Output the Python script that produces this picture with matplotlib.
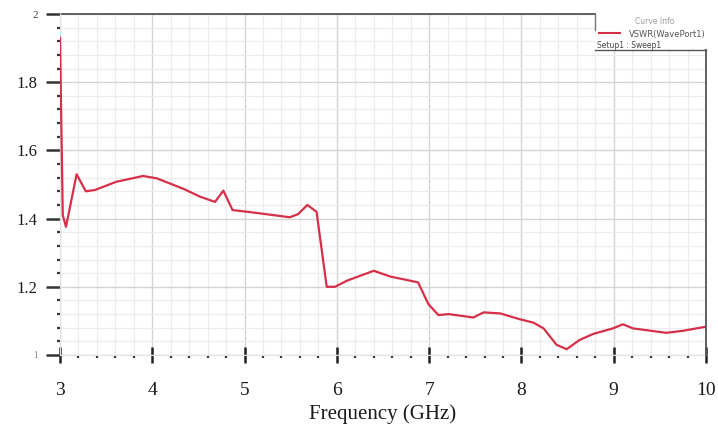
import matplotlib
matplotlib.use("Agg")
import matplotlib.pyplot as plt
from matplotlib.ticker import MultipleLocator, FixedLocator
from matplotlib.lines import Line2D
from matplotlib.patches import Rectangle

# ---- data ----
freq = [3.00, 3.03, 3.065, 3.18, 3.28, 3.38, 3.61, 3.90, 4.05, 4.34, 4.52, 4.68,
        4.77, 4.87, 5.06, 5.49, 5.58, 5.68, 5.78, 5.89, 5.98, 6.11, 6.25, 6.40,
        6.58, 6.88, 6.99, 7.10, 7.21, 7.48, 7.59, 7.77, 7.98, 8.13, 8.24, 8.38,
        8.49, 8.63, 8.78, 8.99, 9.10, 9.21, 9.57, 9.75, 10.0]
vswr = [1.93, 1.41, 1.376, 1.53, 1.48, 1.484, 1.508, 1.525, 1.518, 1.487, 1.464, 1.449,
        1.482, 1.425, 1.419, 1.404, 1.413, 1.44, 1.42, 1.20, 1.20, 1.218, 1.232, 1.247,
        1.23, 1.213, 1.15, 1.117, 1.12, 1.11, 1.125, 1.122, 1.105, 1.095, 1.078, 1.03,
        1.017, 1.044, 1.062, 1.078, 1.09, 1.078, 1.065, 1.071, 1.083]
xticks = [3, 4, 5, 6, 7, 8, 9, 10]
xtick_labels = ["3", "4", "5", "6", "7", "8", "9", "10"]
yticks = [1.0, 1.2, 1.4, 1.6, 1.8, 2.0]
ytick_labels = ["1", "1.2", "1.4", "1.6", "1.8", "2"]
xlabel = "Frequency (GHz)"
legend_title = "Curve Info"
series_name = "VSWR(WavePort1)"
setup_name = "Setup1 : Sweep1"

W, H = 718, 432
fig = plt.figure(figsize=(W / 100, H / 100), dpi=100)
L, R, B, T = 60, 706, 355, 14
ax = fig.add_axes([L / W, 1 - B / H, (R - L) / W, (B - T) / H])

serif = "Liberation Serif"
red = "#d62f48"

ax.plot(freq, vswr, color=red, lw=1.6, zorder=5, solid_joinstyle="round")

ax.set_xlim(3, 10)
ax.set_ylim(1, 2)
ax.xaxis.set_major_locator(FixedLocator(xticks))
ax.yaxis.set_major_locator(FixedLocator(yticks))
ax.xaxis.set_minor_locator(MultipleLocator(0.2))
ax.yaxis.set_minor_locator(MultipleLocator(0.04))
ax.set_xticklabels(xtick_labels, fontfamily=serif, fontsize=14, color="#1a1a1a")
ax.set_yticklabels(ytick_labels, fontfamily=serif, fontsize=12, color="#1a1a1a")

ax.grid(which="major", color="#d4d4d4", lw=1.0, zorder=0)
ax.grid(which="minor", color="#ececec", lw=0.9, zorder=0)
ax.set_axisbelow(True)

ax.tick_params(axis="x", which="major", direction="inout", length=11, width=1.8,
               color="#222222", pad=14)
ax.tick_params(axis="y", which="major", direction="out", length=10, width=1.8,
               color="#333333", pad=6)
ax.tick_params(which="minor", direction="out", length=2, width=1.6, color="#333333")

for s in ["left", "bottom"]:
    ax.spines[s].set_color("#e2e2e2")
    ax.spines[s].set_linewidth(0.8)
for s in ["top", "right"]:
    ax.spines[s].set_visible(False)

ylabs = ax.get_yticklabels()
ylabs[0].set_fontsize(7)
ylabs[0].set_color("#888888")
ylabs[-1].set_fontsize(8)
ylabs[-1].set_color("#444444")

ax.set_xlabel(xlabel, fontfamily=serif, fontsize=15, labelpad=4, color="#1a1a1a")

# frame lines (top up to legend box, right below legend box)
def fx(px):
    return px / W

def fy(py):
    return 1 - py / H

fig.add_artist(Rectangle((fx(595), fy(50)), fx(718) - fx(595), fy(0) - fy(50),
                         transform=fig.transFigure, facecolor="white",
                         edgecolor="none", zorder=3))
fig.add_artist(Line2D([fx(62), fx(595)], [fy(14), fy(14)], color="#555555", lw=1.3,
                      transform=fig.transFigure, zorder=4))
fig.add_artist(Line2D([fx(595), fx(595)], [fy(14), fy(30)], color="#777777", lw=1.0,
                      transform=fig.transFigure, zorder=4))
fig.add_artist(Line2D([fx(595), fx(706)], [fy(50), fy(50)], color="#555555", lw=1.0,
                      transform=fig.transFigure, zorder=4))
fig.add_artist(Line2D([fx(706), fx(706)], [fy(50), fy(355)], color="#555555", lw=1.3,
                      transform=fig.transFigure, zorder=4))

# legend texts
fig.text(fx(655), fy(21), legend_title, fontsize=5.5, color="#999999",
         ha="center", va="center", zorder=6)
fig.add_artist(Line2D([fx(599), fx(620)], [fy(33), fy(33)], color=red, lw=1.5,
                      transform=fig.transFigure, zorder=6))
fig.text(fx(629), fy(34), series_name, fontsize=6, color="#555555",
         ha="left", va="center", zorder=6)
fig.text(fx(597), fy(45), setup_name, fontsize=5.5, color="#444444",
         ha="left", va="center", zorder=6)

fig.savefig("out.png", dpi=100)
